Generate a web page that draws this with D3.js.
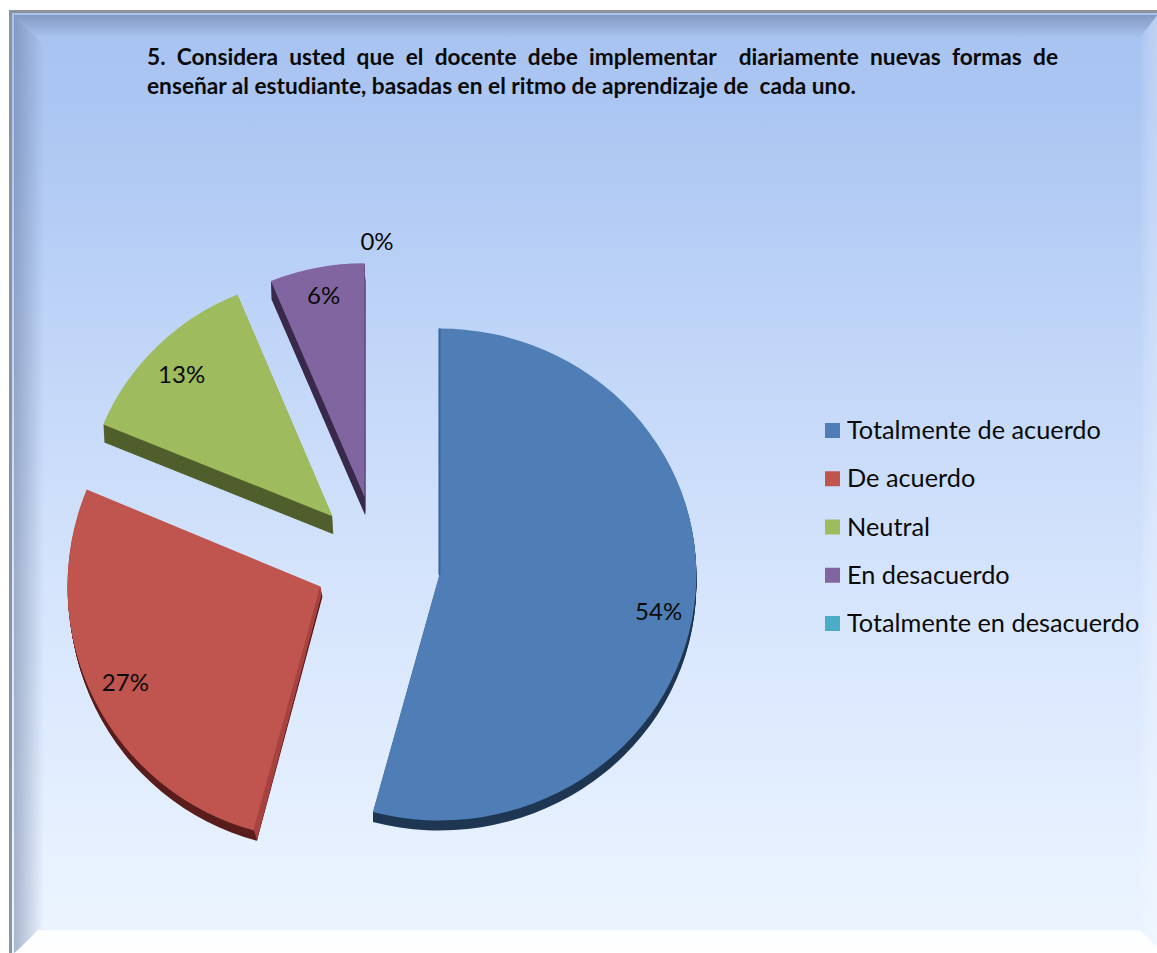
<!DOCTYPE html>
<html>
<head>
<meta charset="utf-8">
<script src="https://cdnjs.cloudflare.com/ajax/libs/d3/7.8.5/d3.min.js"></script>
<style>
html,body{margin:0;padding:0;background:#fff;overflow:hidden}
svg{display:block}
text{font-family:Lato,"Open Sans",sans-serif;fill:#0a0a0a}
</style>
</head>
<body>
<svg id="c" width="1157" height="953"></svg>
<script>
const categories = ["Totalmente de acuerdo","De acuerdo","Neutral","En desacuerdo","Totalmente en desacuerdo"];
const counts = [26,13,6,3,0];
const colors = ["#4f7eb6","#c0544f","#9ebb5e","#8165a0","#4bacc6"];
const wallColors = ["#1f3753","#5a1e1d","#505f2c","#3a2a4b","#2a6a7c"];
const titleLines = ["5. Considera usted que el docente debe implementar  diariamente nuevas formas de","enseñar al estudiante, basadas en el ritmo de aprendizaje de  cada uno."];

// layout of the exploded, tilted pie
const cx = 377, cy = 563, explodeX = 63;
const explodeY = [88,53,66,67,67];
const radiusX = [257,253,248,245,245];
const radiusY = [246,253,240,234,234];
const depthX = [0,2,1,0.5,0];
const depthY = [10,10,18,18,0];
const labelFrac = [0.86,0.86,0.86,0.86,1.085];
const labelNudge = [10,0,5,-4,0];

const svg = d3.select("#c");
const defs = svg.append("defs");
function grad(id,x1,y1,x2,y2,stops){
  const g = defs.append("linearGradient").attr("id",id).attr("x1",x1).attr("y1",y1).attr("x2",x2).attr("y2",y2);
  stops.forEach(s=>g.append("stop").attr("offset",s[0]).attr("stop-color",s[1]).attr("stop-opacity",s[2]===undefined?1:s[2]));
}
grad("bg",0,0,0,1,[[0,"#a8c3f0"],[0.1,"#abc6f2"],[0.3,"#bcd2f7"],[0.6,"#d5e4fc"],[0.9,"#e7f1ff"],[1,"#ecf4ff"]]);
grad("topB",0,0,0,1,[[0,"#5d6f94",0.5],[1,"#5d6f94",0]]);
grad("leftB",0,0,1,0,[[0,"#56688d",0.45],[1,"#56688d",0]]);
grad("rightB",1,0,0,0,[[0,"#ffffff",0.25],[0.6,"#ffffff",0.15],[1,"#ffffff",0]]);
grad("botB",0,0,0,1,[[0,"#fbfdff"],[1,"#ffffff"]]);

const W = 1157, H = 953;
const poly = (pts,fill)=>svg.append("polygon").attr("points",pts.map(p=>p.join(",")).join(" ")).attr("fill",fill);
svg.append("rect").attr("x",9).attr("y",10).attr("width",W-9).attr("height",H-10).attr("fill","#8d929b");
svg.append("rect").attr("x",12).attr("y",13).attr("width",W-12).attr("height",H-13).attr("fill","url(#bg)");
poly([[14,15],[W,15],[1140,38],[38,38]],"url(#topB)");
poly([[14,15],[44,45],[44,930],[14,H]],"url(#leftB)");
poly([[W,16],[W,H],[1140,930],[1140,38]],"url(#rightB)");
poly([[38,930],[1140,930],[W,947],[W,H],[15,H]],"url(#botB)");

// title, justified on the first line
const title = svg.append("g").attr("font-weight",700).attr("font-size",22.7);
titleLines.forEach((t,i)=>{
  const el = title.append("text").attr("x",147).attr("y",65+i*29).style("white-space","pre").text(t);
  if(i===0){
    const len = el.node().getComputedTextLength();
    const gaps = t.split(" ").length-1;
    el.style("word-spacing",((1058-147-len)/gaps)+"px");
  }
});

// pie
const pie = d3.pie().sort(null).value(d=>d);
const arcs = pie(counts);
const arc = d3.arc().innerRadius(0).outerRadius(1);
const apex = i=>{
  const m = (arcs[i].startAngle+arcs[i].endAngle)/2;
  return [cx+explodeX*Math.sin(m), cy-explodeY[i]*Math.cos(m)];
};
const pt = (i,a,f=1)=>{
  const c = apex(i);
  return [c[0]+radiusX[i]*f*Math.sin(a), c[1]-radiusY[i]*f*Math.cos(a)];
};
const slices = svg.append("g");
arcs.forEach((d,i)=>{
  if(d.endAngle===d.startAngle) return;
  const c = apex(i);
  const g = slices.append("g");
  // extruded wall: stacked copies of the slice, shifted along the depth vector
  g.selectAll("path.wall").data(d3.range(depthY[i],0,-1)).join("path").attr("class","wall")
    .attr("d",arc(d)).attr("fill",wallColors[i])
    .attr("transform",s=>`translate(${c[0]+depthX[i]*s/depthY[i]},${c[1]+s}) scale(${radiusX[i]},${radiusY[i]})`);
  g.append("path").attr("d",arc(d)).attr("fill",colors[i])
    .attr("transform",`translate(${c[0]},${c[1]}) scale(${radiusX[i]},${radiusY[i]})`);
  if(i===1){
    // lit cut face of the red slice
    const e = pt(i,d.startAngle);
    slices.append("polygon").attr("points",[[c[0]+0.5,c[1]],[c[0]+0.5,c[1]+10],[e[0]+2,e[1]+9],[e[0]-1,e[1]],[e[0]-1,e[1]-3],[c[0]-4,c[1]+14]].map(p=>p.join(",")).join(" ")).attr("fill","#a8423f");
  }
  if(i===0){
    const e = pt(i,d.startAngle);
    slices.append("line").attr("x1",c[0]).attr("y1",c[1]).attr("x2",e[0]).attr("y2",e[1]).attr("stroke","#38659a").attr("stroke-width",2);
  }
});

// data labels
const pct = d3.format(".0%");
const total = d3.sum(counts);
svg.append("g").selectAll("text").data(arcs).join("text")
  .attr("text-anchor","middle").attr("font-size",24)
  .attr("x",(d,i)=>pt(i,(d.startAngle+d.endAngle)/2,labelFrac[i])[0])
  .attr("y",(d,i)=>pt(i,(d.startAngle+d.endAngle)/2,labelFrac[i])[1]+labelNudge[i]+8)
  .text(d=>pct(Math.round(d.value/total*1000+1e-6)/1000));

// legend
const lg = svg.append("g");
const ly = d3.scalePoint().domain(categories).range([423,616]);
lg.selectAll("rect").data(categories).join("rect").attr("x",825).attr("y",d=>ly(d)).attr("width",15).attr("height",15).attr("fill",(d,i)=>colors[i]);
lg.selectAll("text").data(categories).join("text").attr("x",847).attr("y",d=>ly(d)+16).attr("font-size",25.3).text(d=>d);
</script>
</body>
</html>
